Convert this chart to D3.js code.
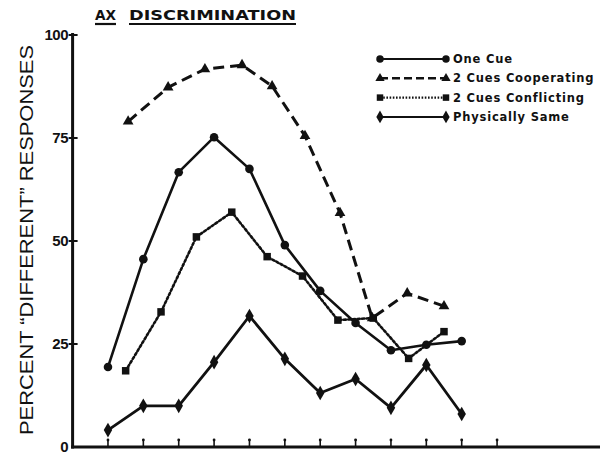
<!DOCTYPE html>
<html>
<head>
<meta charset="utf-8">
<script src="https://cdn.jsdelivr.net/npm/d3@7"></script>
<style>
  body { margin: 0; background: #fff; }
  svg { display: block; }
</style>
</head>
<body>
<div id="chart"></div>
<script>
// stimulus positions on the x axis (tick units)
var stimuli = [1, 2, 3, 4, 5, 6, 7, 8, 9, 10, 11];
var xTicks = [1, 2, 3, 4, 5, 6, 7, 8, 9, 10, 11, 12];
var yTicks = [0, 25, 50, 75, 100];

var oneCue = [19.4, 45.6, 66.7, 75.2, 67.5, 49.0, 37.9, 30.1, 23.5, 24.8, 25.7];
var physSame = [4.1, 10.0, 10.0, 20.6, 31.8, 21.4, 13.1, 16.5, 9.5, 19.9, 8.0];

// two-cue pairs fall between the single-cue stimuli
var coopX = [1.57, 2.70, 3.74, 4.79, 5.64, 6.57, 7.56, 8.47, 9.46, 10.5];
var coop = [79.0, 87.3, 91.7, 92.7, 87.6, 75.5, 56.8, 31.3, 37.3, 34.2];
var conflX = [1.5, 2.5, 3.5, 4.5, 5.5, 6.5, 7.5, 8.5, 9.5, 10.5];
var confl = [18.5, 32.8, 51.0, 57.0, 46.2, 41.5, 30.8, 31.3, 21.5, 28.0];

var seriesNames = ['One Cue', '2 Cues Cooperating', '2 Cues Conflicting', 'Physically Same'];

var width = 608, height = 455;

var svg = d3.select('#chart').append('svg')
    .attr('width', width)
    .attr('height', height);

var x = d3.scaleLinear().domain([0, 14.91]).range([72.6, 600]);
var y = d3.scaleLinear().domain([0, 100]).range([447, 35]);

var ink = '#111';

/* series definitions */
var series = [
    { name: seriesNames[0], xs: stimuli, ys: oneCue, symbol: d3.symbolCircle, size: 58, dash: null, width: 2.6 },
    { name: seriesNames[1], xs: coopX, ys: coop, symbol: d3.symbolTriangle, size: 50, dash: '11,6', width: 3 },
    { name: seriesNames[2], xs: conflX, ys: confl, symbol: d3.symbolSquare, size: 56, dash: '2.2,2.4', width: 2.6 },
    { name: seriesNames[3], xs: stimuli, ys: physSame, symbol: d3.symbolDiamond, size: 62, dash: null, width: 2.8 }
];

/* axes */
svg.append('line')
    .attr('x1', x(0)).attr('x2', x(0))
    .attr('y1', y(100) - 2).attr('y2', y(0) + 1.5)
    .attr('stroke', ink).attr('stroke-width', 3);

svg.append('line')
    .attr('x1', x(0) - 1.5).attr('x2', 600)
    .attr('y1', y(0)).attr('y2', y(0))
    .attr('stroke', ink).attr('stroke-width', 3);

svg.append('g').selectAll('line')
    .data(yTicks.filter(function(d) { return d > 0; }))
    .enter().append('line')
    .attr('x1', x(0) - 4).attr('x2', x(0) + 5)
    .attr('y1', function(d) { return y(d); })
    .attr('y2', function(d) { return y(d); })
    .attr('stroke', ink).attr('stroke-width', 2);

svg.append('g').selectAll('text')
    .data(yTicks)
    .enter().append('text')
    .attr('x', 68)
    .attr('y', function(d) { return y(d); })
    .attr('dy', '0.36em')
    .attr('text-anchor', 'end')
    .style('font-family', 'Liberation Sans, Arial, sans-serif')
    .style('font-weight', 'bold')
    .style('font-size', '15px')
    .style('letter-spacing', '-0.5px')
    .attr('fill', ink)
    .text(function(d) { return d; });

var xt = svg.append('g').selectAll('g')
    .data(xTicks)
    .enter().append('g')
    .attr('transform', function(d) { return 'translate(' + x(d) + ',' + y(0) + ')'; });

xt.append('line')
    .attr('y1', 0).attr('y2', -8)
    .attr('stroke', ink).attr('stroke-width', 1.6);

xt.append('circle')
    .attr('cy', -7).attr('r', 1.4)
    .attr('fill', ink);

/* y axis title */
svg.append('text')
    .attr('transform', 'translate(33,240) rotate(-90)')
    .attr('text-anchor', 'middle')
    .attr('textLength', 390)
    .attr('lengthAdjust', 'spacingAndGlyphs')
    .style('font-family', 'Liberation Sans, Arial, sans-serif')
    .style('font-size', '19px')
    .attr('fill', ink)
    .text('PERCENT \u201CDIFFERENT\u201D RESPONSES');

/* title, each word underlined */
var titleWords = [
    { text: 'AX', x0: 95, x1: 116 },
    { text: 'DISCRIMINATION', x0: 129, x1: 296 }
];

var tw = svg.append('g').selectAll('g')
    .data(titleWords)
    .enter().append('g');

tw.append('text')
    .attr('x', function(d) { return d.x0; })
    .attr('y', 20)
    .attr('textLength', function(d) { return d.x1 - d.x0; })
    .attr('lengthAdjust', 'spacingAndGlyphs')
    .style('font-family', 'DejaVu Sans, sans-serif')
    .style('font-weight', 'bold')
    .style('font-size', '13.5px')
    .attr('fill', ink)
    .text(function(d) { return d.text; });

tw.append('line')
    .attr('x1', function(d) { return d.x0; })
    .attr('x2', function(d) { return d.x1; })
    .attr('y1', 24).attr('y2', 24)
    .attr('stroke', ink).attr('stroke-width', 2.2);

/* lines and markers */
var line = d3.line()
    .x(function(d) { return x(d[0]); })
    .y(function(d) { return y(d[1]); });

series.forEach(function(s) {
    var pts = s.xs.map(function(v, i) { return [v, s.ys[i]]; });

    svg.append('path')
        .datum(pts)
        .attr('d', line)
        .attr('fill', 'none')
        .attr('stroke', ink)
        .attr('stroke-width', s.width)
        .attr('stroke-linejoin', 'round')
        .attr('stroke-linecap', s.dash && s.dash.indexOf('2.2') === 0 ? 'round' : 'butt')
        .attr('stroke-dasharray', s.dash);

    svg.append('g').selectAll('path')
        .data(pts)
        .enter().append('path')
        .attr('transform', function(d) { return 'translate(' + x(d[0]) + ',' + y(d[1]) + ')'; })
        .attr('d', d3.symbol().type(s.symbol).size(s.size))
        .attr('fill', ink);
});

/* legend */
var legend = svg.append('g').selectAll('g')
    .data(series)
    .enter().append('g')
    .attr('transform', function(d, i) { return 'translate(0,' + (59 + i * 19.3) + ')'; });

legend.append('line')
    .attr('x1', 380).attr('x2', 446)
    .attr('stroke', ink)
    .attr('stroke-width', function(d) { return d.dash ? 2.4 : 2; })
    .attr('stroke-dasharray', function(d) { return d.dash === '11,6' ? '8,4' : (d.dash ? '1.6,1.6' : null); });

legend.selectAll('path')
    .data(function(d) { return [[380, d], [446, d]]; })
    .enter().append('path')
    .attr('transform', function(d) { return 'translate(' + d[0] + ',0)'; })
    .attr('d', function(d) { return d3.symbol().type(d[1].symbol).size(d[1].size * 0.75)(); })
    .attr('fill', ink);

legend.append('text')
    .attr('x', 453)
    .attr('dy', '0.35em')
    .style('font-family', 'DejaVu Sans, sans-serif')
    .style('font-weight', 'bold')
    .style('font-size', '11.5px')
    .style('letter-spacing', '0.8px')
    .attr('fill', ink)
    .text(function(d) { return d.name; });
</script>
</body>
</html>
